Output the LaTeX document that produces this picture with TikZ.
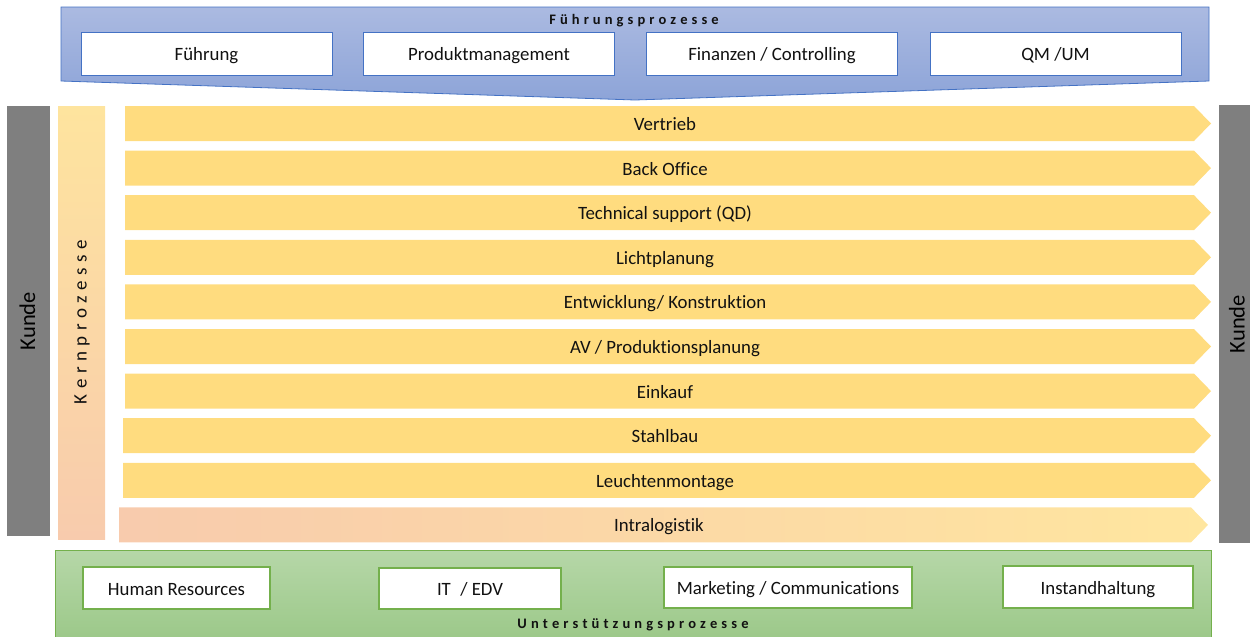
\documentclass[tikz,border=0pt]{standalone}
\usepackage{fontspec}
\setmainfont{Carlito}[RawFeature=-liga]
\definecolor{fTop}{HTML}{ABBAE1}
\definecolor{fBot}{HTML}{8DA4D8}
\definecolor{fBorder}{HTML}{4472C4}
\definecolor{gTop}{HTML}{B6D7A8}
\definecolor{gBot}{HTML}{9BC888}
\definecolor{gBorder}{HTML}{74B04C}
\definecolor{arrowfill}{HTML}{FFDC7F}
\definecolor{kTop}{HTML}{FEE49E}
\definecolor{kBot}{HTML}{F8CBAD}
\definecolor{iRight}{HTML}{FFE69F}
\definecolor{kundegray}{HTML}{7F7F7F}
\definecolor{txt}{HTML}{111111}
\makeatletter
\newcommand\spreadtext[2]{\@tfor\spr@c:=#2\do{\spr@c\hskip#1\relax}\unskip}
\makeatother
\tikzset{
  lbl/.style={text=txt, inner sep=0pt, text height=15pt, text depth=1pt},
  fbox/.style={lbl, draw=fBorder, line width=0.9pt, fill=white, minimum width=251pt, minimum height=43pt},
  gbox/.style={lbl, draw=gBorder, line width=1.3pt, fill=white, minimum height=41pt},
  kunde/.style={fill=kundegray, rotate=90, inner sep=0pt, text=black, font=\fontsize{22.5}{26}\selectfont, text height=16pt, text depth=3pt},
  rowlabel/.style={lbl},
  spaced/.style={text=txt, inner sep=0pt, font=\fontsize{14.5}{16}\selectfont\bfseries}
}
\begin{document}
\begin{tikzpicture}[x=1pt,y=-1pt, font=\fontsize{18.8}{22}\selectfont]
\useasboundingbox (0,0) rectangle (1250,637);
% top banner
\shade[top color=fTop, bottom color=fBot, draw=fBorder, line width=0.8pt]
  (61,7) -- (1209,7) -- (1209,81) -- (635,100) -- (61,81) -- cycle;
\node[spaced] (ftitle) at (634,20.5) {\spreadtext{4.07pt}{Führungsprozesse}};
\node[fbox] (f1) at (206.5,53.5) {Führung};
\node[fbox] (f2) at (489,53.5) {Produktmanagement};
\node[fbox] (f3) at (772,53.5) {Finanzen / Controlling};
\node[fbox] (f4) at (1055.5,53.5) {QM /UM};
% Kunde columns
\node[kunde, minimum width=430pt, minimum height=43pt] (kl) at (28.5,321) {Kunde};
\node[kunde, minimum width=438pt, minimum height=38pt] (kr) at (1238,324) {Kunde};
% Kernprozesse column
\shade[top color=kTop, bottom color=kBot] (58,106) rectangle (105,539);
\node[text=txt, inner sep=0pt, rotate=90, font=\fontsize{19}{22}\selectfont] (kern) at (82,322) {\spreadtext{5.5pt}{Kernprozesse}};
% process rows
\foreach \i/\t/\xs in {0/{Vertrieb}/125, 1/{Back Office}/125, 2/{Technical support (QD)}/125, 3/{Lichtplanung}/125, 4/{Entwicklung/ Konstruktion}/125, 5/{AV / Produktionsplanung}/125, 6/{Einkauf}/125, 7/{Stahlbau}/123, 8/{Leuchtenmontage}/123}{
  \pgfmathsetmacro{\yt}{106+44.6*\i}
  \fill[arrowfill] (\xs,\yt) -- (1194,\yt) -- (1211,\yt+17.5) -- (1194,\yt+35) -- (\xs,\yt+35) -- cycle;
  \node[rowlabel] (r\i) at (665,\yt+17.5) {\t};
}
\shade[left color=kBot, right color=iRight]
  (119,507.4) -- (1191,507.4) -- (1208,524.9) -- (1191,542.4) -- (119,542.4) -- cycle;
\node[rowlabel] (r9) at (659,524.9) {Intralogistik};
% bottom banner
\shade[top color=gTop, bottom color=gBot, draw=gBorder, line width=0.9pt] (55,550) rectangle (1211,642);
\node[gbox, minimum width=187pt, minimum height=42pt] (g1) at (176.5,588) {Human Resources};
\node[gbox, minimum width=182pt] (g2) at (470,588.5) {IT\enspace/ EDV};
\node[gbox, minimum width=248pt] (g3) at (788,587.5) {Marketing / Communications};
\node[gbox, minimum width=190pt, minimum height=42pt] (g4) at (1098,587) {Instandhaltung};
\node[spaced] (gtitle) at (633,625) {\spreadtext{4.1pt}{Unterstützungsprozesse}};
\end{tikzpicture}
\end{document}
